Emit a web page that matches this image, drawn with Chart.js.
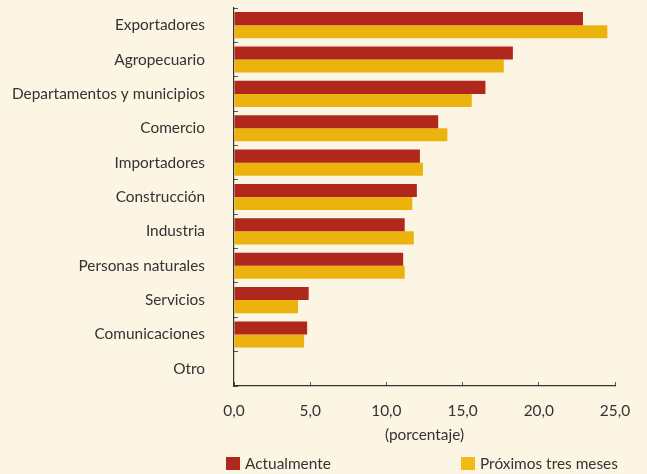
<!DOCTYPE html>
<html>
<head>
<meta charset="utf-8">
<script src="https://cdn.jsdelivr.net/npm/chart.js@4"></script>
<style>
  html, body { margin: 0; padding: 0; background: #FDF5E3; }
  #wrap { position: relative; width: 647px; height: 474px; }
  .leg { position: absolute; top: 454px; font: 15.4px Lato, sans-serif; color: #333; line-height: 18px; }
  .leg span { display: inline-block; width: 14px; height: 13px; vertical-align: -1px; margin-right: 5px; }
</style>
</head>
<body>
<div id="wrap">
  <canvas id="chart" width="647" height="474"></canvas>
  <div class="leg" style="left:226px"><span style="background:#B0281C"></span>Actualmente</div>
  <div class="leg" style="left:461px"><span style="background:#F4B914"></span>Próximos tres meses</div>
</div>
<script>
const categories = ['Exportadores', 'Agropecuario', 'Departamentos y municipios', 'Comercio',
  'Importadores', 'Construcción', 'Industria', 'Personas naturales', 'Servicios',
  'Comunicaciones', 'Otro'];
const actualmente = [22.9, 18.3, 16.5, 13.4, 12.2, 12.0, 11.2, 11.1, 4.9, 4.8, 0];
const proximos = [24.5, 17.7, 15.6, 14.0, 12.4, 11.7, 11.8, 11.2, 4.2, 4.6, 0];
const xTicks = [0, 5, 10, 15, 20, 25];

const ink = '#333333';
const labelFont = { family: 'Lato', size: 15.4 };

new Chart(document.getElementById('chart'), {
  type: 'bar',
  data: {
    labels: categories,
    datasets: [
      { label: 'Actualmente', data: actualmente, backgroundColor: '#B0281C',
        barPercentage: 1, categoryPercentage: 0.76 },
      { label: 'Próximos tres meses', data: proximos, backgroundColor: '#ECB20E',
        barPercentage: 1, categoryPercentage: 0.76 }
    ]
  },
  options: {
    indexAxis: 'y',
    responsive: false,
    animation: false,
    layout: { padding: { top: 8, left: 8, right: 32, bottom: 26 } },
    plugins: {
      legend: { display: false },
      tooltip: { enabled: false }
    },
    scales: {
      y: {
        // fixed width so the plot starts where the reference does
        afterFit: function(s) { s.width = 226; s.paddingTop = 0; s.paddingBottom = 0; },
        grid: { drawOnChartArea: false, tickLength: -4, color: '#555', offset: true },
        border: { color: '#333', width: 1.2 },
        ticks: { padding: 33, color: ink, font: labelFont }
      },
      x: {
        min: 0,
        max: 25,
        afterBuildTicks: function(s) { s.ticks = xTicks.map(v => ({ value: v })); },
        afterFit: function(s) { s.height = 62; s.paddingLeft = 0; s.paddingRight = 0; },
        grid: { drawOnChartArea: false, tickLength: -4, color: '#555' },
        border: { color: '#333', width: 1.2 },
        ticks: {
          padding: 20, color: ink, font: labelFont,
          callback: v => v.toFixed(1).replace('.', ',')
        },
        title: { display: true, text: '(porcentaje)', color: ink,
          font: labelFont, padding: { top: 0, bottom: 4 } }
      }
    }
  }
});
</script>
</body>
</html>
